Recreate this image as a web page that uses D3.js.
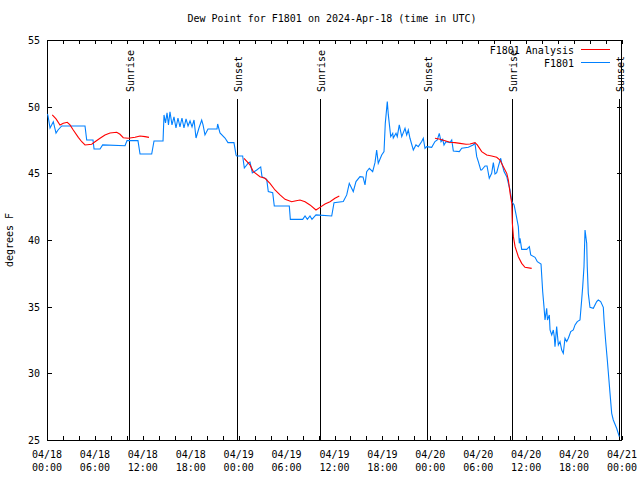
<!DOCTYPE html>
<html><head><meta charset="utf-8">
<script src="https://cdn.jsdelivr.net/npm/d3@7/dist/d3.min.js"></script>
<style>body{margin:0;background:#fff}svg{display:block}</style>
</head><body>
<svg id="chart" width="640" height="480"></svg>
<script>
// ---------- data ----------
const chartTitle = "Dew Point for F1801 on 2024-Apr-18 (time in UTC)";
const yAxisLabel = "degrees F";
const startTime = "2024-04-18T00:00:00Z";
const endTime = "2024-04-21T00:00:00Z";
const yTicks = [25, 30, 35, 40, 45, 50, 55];
const seriesNames = ["F1801 Analysis", "F1801"];

// observations: hours since start, dew point (F)
const obsHours = [0.06,0.13,0.38,0.79,1.13,1.38,1.84,4.76,4.97,5.76,5.89,6.64,6.97,9.77,10.02,11.39,11.65,13.11,13.4,14.53,
  14.65,14.84,15.03,15.21,15.4,15.65,15.9,16.15,16.4,16.65,16.9,17.15,17.41,17.66,17.91,18.16,18.41,18.66,19.03,19.37,
  19.54,19.78,20.16,21.29,21.37,21.66,22.29,22.66,23.41,23.67,23.75,24.5,24.71,25.21,25.42,25.71,26.26,26.76,26.92,27.51,
  27.71,28.26,28.46,30.34,30.47,32.02,32.31,32.6,32.93,33.18,33.68,35.65,35.94,37.1,37.53,37.85,38.35,38.69,39.19,39.57,
  39.82,40.03,40.36,40.78,41.07,41.28,41.48,41.91,42.2,42.36,42.61,42.74,43.04,43.29,43.36,43.7,43.86,44.11,44.42,44.83,
  45.04,45.24,45.45,45.87,46.2,46.49,46.92,47.12,47.33,47.54,48.17,48.58,48.87,49.12,49.34,49.55,49.71,49.96,50.46,50.68,
  50.88,51.63,51.93,52.76,53.35,53.59,53.81,54.01,54.31,54.43,54.85,55.1,55.38,55.68,55.89,56.1,56.31,56.51,56.81,56.94,
  57.23,57.57,57.77,57.99,58.2,58.49,58.74,59.02,59.14,59.23,59.44,60.07,60.4,60.57,61.11,61.4,61.86,62.07,62.23,62.36,
  62.57,62.67,62.9,62.99,63.2,63.4,63.52,63.61,63.82,64.03,64.24,64.45,64.65,64.86,65.08,65.28,65.58,65.9,66.12,66.4,
  66.74,66.95,67.08,67.24,67.37,67.58,67.65,67.78,67.99,68.41,68.83,69.03,69.33,69.66,69.75,69.96,70.16,70.28,70.5,70.71,
  70.91,71.33,71.66];
const obsValues = [49.45,49.3,48.4,48.87,48.02,48.25,48.55,48.55,47.5,47.5,46.83,46.83,47.13,47.07,47.45,47.45,46.45,46.45,47.43,47.43,
  49.38,48.78,49.53,48.63,49.62,48.63,49.23,48.4,49.15,48.48,49.15,48.4,49.08,48.55,48.93,48.48,49.0,47.65,48.4,49.0,
  48.63,47.88,48.33,48.33,48.7,48.03,47.65,47.3,47.3,46.38,46.3,46.3,45.4,45.78,45.85,45.03,45.25,45.48,44.75,44.55,
  43.63,43.55,42.55,42.55,41.55,41.55,41.8,41.55,41.8,41.55,41.88,41.8,42.8,42.88,43.38,44.25,43.63,44.38,44.75,44.73,
  44.13,45.13,45.38,45.13,45.8,46.75,45.75,46.38,46.63,48.75,50.38,49.38,47.75,48.0,47.65,48.0,47.75,48.63,47.75,48.38,
  47.88,48.25,47.63,46.75,47.13,47.0,47.38,47.63,46.88,47.0,46.95,47.38,47.5,48.0,47.38,47.55,47.13,47.38,47.3,47.5,
  46.68,46.63,46.88,46.95,47.13,47.25,46.25,45.88,45.25,45.25,45.55,45.55,44.63,45.0,45.8,44.95,45.05,45.5,46.13,45.78,
  45.13,44.75,44.25,43.75,42.88,42.63,41.88,41.0,39.75,40.13,39.3,39.3,39.5,38.88,38.7,38.37,38.2,36.12,35.0,34.0,
  34.88,34.0,34.38,33.25,32.88,33.25,32.75,32.0,33.5,32.13,32.38,31.75,31.5,32.63,32.38,32.63,33.13,33.25,33.63,33.88,
  34.0,35.5,36.5,38.0,40.75,39.75,38.0,36.0,34.95,34.88,35.38,35.5,35.38,34.95,34.0,32.37,31.0,30.12,28.5,27.0,
  26.5,25.88,25.25];

// analysis: hours since start, dew point (F); null marks a gap
const anaHours = [0.66,1.13,1.63,2.04,2.54,2.88,3.29,3.92,4.35,4.76,5.6,6.01,6.64,7.26,7.89,8.73,9.14,9.55,10.18,11.02,11.65,12.27,12.77,
  18.0,
  24.67,25.42,25.83,26.67,27.3,27.92,28.55,29.18,29.81,30.64,31.05,31.68,32.31,32.93,33.68,34.18,34.81,35.44,36.06,36.6,
  42.0,
  48.58,49.21,49.84,50.46,51.09,51.72,52.47,52.97,53.59,53.88,54.43,55.06,55.68,56.31,56.72,57.14,57.57,57.77,57.99,58.2,58.27,58.4,58.61,59.02,59.44,59.85,60.69];
const anaValues = [49.38,49.08,48.63,48.75,48.83,48.63,48.25,47.7,47.37,47.13,47.18,47.37,47.63,47.88,48.03,48.08,47.93,47.67,47.63,47.7,47.8,47.75,47.7,
  null,
  46.13,45.63,45.13,44.75,44.63,44.25,43.75,43.38,43.05,42.87,42.93,43.0,42.87,42.63,42.25,42.45,42.7,42.87,43.13,43.3,
  null,
  47.63,47.55,47.45,47.33,47.3,47.25,47.18,47.2,47.3,47.13,46.63,46.38,46.3,46.2,46.0,45.5,45.0,44.5,43.5,42.75,41.25,40.25,39.5,38.75,38.25,37.95,37.87];

// sun events: hours since start
const sunHours = [10.31, 23.75, 34.19, 47.62, 58.27, 71.62];
const sunLabels = ["Sunrise", "Sunset", "Sunrise", "Sunset", "Sunrise", "Sunset"];

// ---------- drawing ----------
const FONT = "'DejaVu Sans Mono', 'Liberation Mono', monospace";
const colors = {analysis: "#ff0000", obs: "#0080ff"};
const plot = {left: 47, right: 622, top: 40, bottom: 440};

const t0 = new Date(startTime), t1 = new Date(endTime);
const toDate = h => new Date(t0.getTime() + h * 3600e3);

const x = d3.scaleUtc().domain([t0, t1]).range([plot.left, plot.right]);
const y = d3.scaleLinear().domain([25, 55]).range([plot.bottom, plot.top]);

const svg = d3.select("#chart");
svg.append("rect").attr("width", 640).attr("height", 480).attr("fill", "#fff");

const defs = svg.append("defs");
defs.append("clipPath").attr("id", "clip").append("rect")
  .attr("x", plot.left).attr("y", plot.top)
  .attr("width", plot.right - plot.left).attr("height", plot.bottom - plot.top);

const g = svg.append("g").attr("font-family", FONT).attr("font-size", 10);

// title
g.append("text").attr("x", 332).attr("y", 22).attr("text-anchor", "middle")
  .attr("fill", "#000").text(chartTitle);

// y label
g.append("text").attr("transform", "translate(13,240) rotate(-90)")
  .attr("text-anchor", "middle").attr("fill", "#000").text(yAxisLabel);

const xTickVals = d3.utcHour.every(2).range(t0, new Date(t1.getTime() + 1));
const xLabelVals = d3.utcHour.every(6).range(t0, new Date(t1.getTime() + 1));

// axes with inward ticks
const axB = d3.axisBottom(x).tickValues(xTickVals).tickSizeInner(-4).tickSizeOuter(0).tickFormat("");
const axT = d3.axisTop(x).tickValues(xTickVals).tickSizeInner(-4).tickSizeOuter(0).tickFormat("");
const axL = d3.axisLeft(y).tickValues(yTicks).tickSizeInner(-5).tickSizeOuter(0).tickFormat("");
const axR = d3.axisRight(y).tickValues(yTicks).tickSizeInner(-5).tickSizeOuter(0).tickFormat("");

function styleAxis(sel) {
  sel.select(".domain").remove();
  sel.selectAll(".tick line").attr("stroke", "#000").attr("shape-rendering", "crispEdges");
}
g.append("g").attr("transform", `translate(0,${plot.bottom})`).call(axB).call(styleAxis);
g.append("g").attr("transform", `translate(0,${plot.top})`).call(axT).call(styleAxis);
g.append("g").attr("transform", `translate(${plot.left},0)`).call(axL).call(styleAxis);
g.append("g").attr("transform", `translate(${plot.right},0)`).call(axR).call(styleAxis);

// y tick labels
g.append("g").selectAll("text").data(yTicks).join("text")
  .attr("x", 40).attr("y", d => y(d) + 4).attr("text-anchor", "end")
  .attr("fill", "#000").text(d => d);

// x tick labels (two lines)
const fmtDay = d3.utcFormat("%m/%d"), fmtTime = d3.utcFormat("%H:%M");
const xl = g.append("g").selectAll("text").data(xLabelVals).join("text")
  .attr("text-anchor", "middle").attr("fill", "#000");
xl.append("tspan").attr("x", d => x(d)).attr("y", 458).text(d => fmtDay(d));
xl.append("tspan").attr("x", d => x(d)).attr("y", 471).text(d => fmtTime(d));

// sun lines
const sun = g.append("g").selectAll("g").data(sunHours.map((h, i) => ({h, label: sunLabels[i]}))).join("g");
sun.append("line")
  .attr("x1", d => Math.round(x(toDate(d.h))) + 0.5).attr("x2", d => Math.round(x(toDate(d.h))) + 0.5)
  .attr("y1", 99).attr("y2", plot.bottom).attr("stroke", "#000").attr("stroke-width", 1);
sun.append("text")
  .attr("transform", d => `translate(${Math.round(x(toDate(d.h))) + 5},92) rotate(-90)`)
  .attr("text-anchor", "start").attr("fill", "#000").text(d => d.label);

// frame
g.append("rect").attr("x", plot.left + 0.5).attr("y", plot.top + 0.5)
  .attr("width", plot.right - plot.left - 1).attr("height", plot.bottom - plot.top)
  .attr("fill", "none").attr("stroke", "#000").attr("shape-rendering", "crispEdges");

// series
const line = d3.line()
  .defined(d => d[1] !== null)
  .x(d => x(toDate(d[0]))).y(d => y(d[1]));

const lines = g.append("g").attr("clip-path", "url(#clip)");
lines.append("path").datum(obsHours.map((h, i) => [h, obsValues[i]]))
  .attr("d", line).attr("fill", "none").attr("stroke", colors.obs).attr("stroke-width", 1.1);
lines.append("path").datum(anaHours.map((h, i) => [h, anaValues[i]]))
  .attr("d", line).attr("fill", "none").attr("stroke", colors.analysis).attr("stroke-width", 1.1);

// legend
const legendData = [
  {name: seriesNames[0], color: colors.analysis, yy: 49.5},
  {name: seriesNames[1], color: colors.obs, yy: 62.5}
];
const lg = g.append("g").selectAll("g").data(legendData).join("g");
lg.append("text").attr("x", 574).attr("y", d => d.yy + 4).attr("text-anchor", "end")
  .attr("fill", "#000").text(d => d.name);
lg.append("line").attr("x1", 581).attr("x2", 610).attr("y1", d => d.yy).attr("y2", d => d.yy)
  .attr("stroke", d => d.color).attr("stroke-width", 1);
</script>
</body></html>
